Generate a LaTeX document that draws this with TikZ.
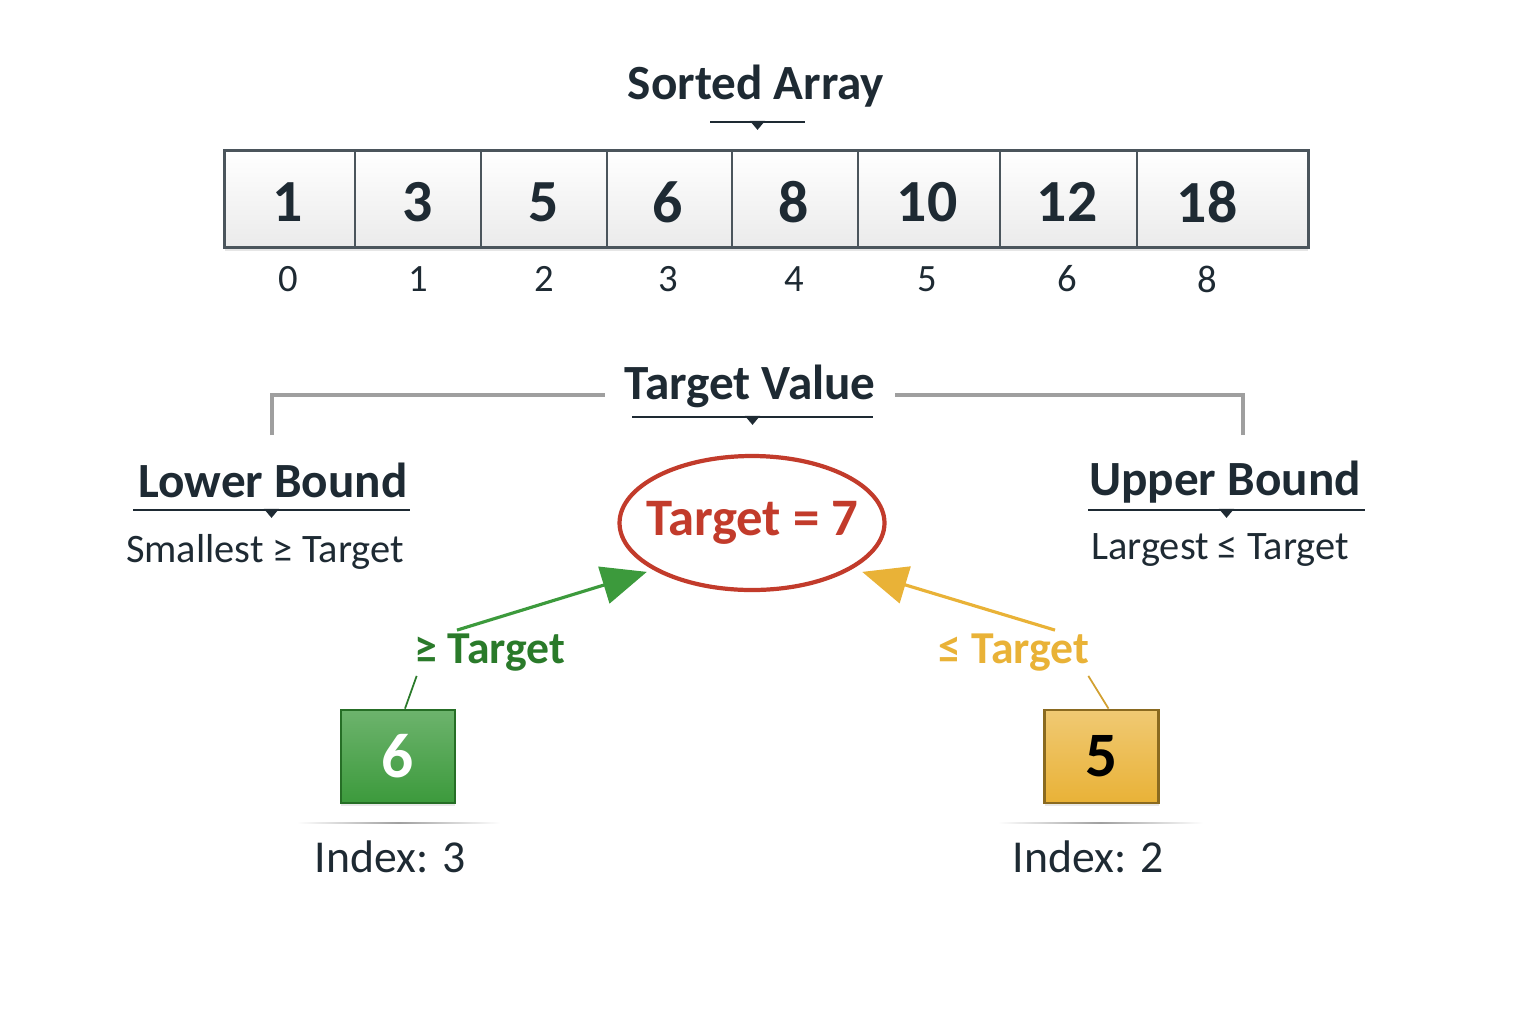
\documentclass[tikz,border=0pt]{standalone}
\usepackage{fontspec}
\setmainfont{Carlito}
\usetikzlibrary{shapes.geometric,shadows,arrows.meta}
\definecolor{ink}{HTML}{1E2A33}
\definecolor{tred}{HTML}{C23B2B}
\definecolor{lgreen}{HTML}{3C9A3C}
\definecolor{dgreen}{HTML}{2A7A2A}
\definecolor{lyellow}{HTML}{E9B237}
\definecolor{dyellow}{HTML}{8A6A20}
\tikzset{
  head/.style={font=\fontsize{14}{16}\selectfont\bfseries,text=ink,inner sep=1pt},
  sub/.style={font=\fontsize{11.5}{14}\selectfont,text=ink,inner sep=1pt},
  cell/.style={rectangle,draw=ink!80,line width=0.5pt,minimum height=0.96cm,top color=white,bottom color=gray!16,inner sep=0pt},
  val/.style={font=\fontsize{17}{19}\selectfont\bfseries,text=ink,inner sep=0pt},
  idx/.style={font=\fontsize{11}{13}\selectfont,text=ink,inner sep=0pt},
  uline/.style={draw=ink,line width=0.5pt},
  marker/.style={isosceles triangle,isosceles triangle apex angle=80,shape border rotate=-90,fill=ink,inner sep=0pt,minimum width=0.15cm,minimum height=0.09cm,anchor=north,yshift=0.02cm},
  bracket/.style={draw=gray!75,line width=1pt},
  pick/.style={rectangle,minimum width=1.14cm,minimum height=0.93cm,line width=0.8pt,font=\fontsize{18}{20}\selectfont\bfseries,drop shadow={opacity=0.18,shadow xshift=0pt,shadow yshift=-0.8pt}},
  fade/.style={left color=white,right color=white,middle color=gray!75},
}
\begin{document}
\begin{tikzpicture}
  \useasboundingbox (0,0) rectangle (15.36,-10.24);
  % array
  \node[head] (title) at (7.56,-0.86) {Sorted Array};
  \draw[uline] (7.10,-1.22) -- node[marker]{} (8.05,-1.22);
  \path[fill=white,drop shadow={opacity=0.2,shadow xshift=0pt,shadow yshift=-1.2pt}] (2.25,-1.51) rectangle (13.08,-2.47);
  \foreach \l/\r/\c/\v/\i [count=\k] in {2.25/3.55/2.88/1/0, 3.55/4.81/4.18/3/1, 4.81/6.07/5.44/5/2, 6.07/7.32/6.68/6/3, 7.32/8.58/7.94/8/4, 8.58/10.00/9.27/10/5, 10.00/11.37/10.67/12/6, 11.37/13.08/12.07/18/8}{
    \node[cell,minimum width={(\r-\l)*1cm}] (c\k) at ({(\l+\r)/2},-1.99) {};
    \node[val] (v\k) at (\c,-2.02) {\v};
    \node[idx] (i\k) at (\c,-2.79) {\i};
  }
  \draw[line width=0.9pt,ink!80] (c1.north west) rectangle (c8.south east);
  % target
  \node[head] (tv) at (7.50,-3.86) {Target Value};
  \draw[uline] (6.32,-4.17) -- node[marker]{} (8.73,-4.17);
  \node[ellipse,draw=tred,line width=1.2pt,inner xsep=-3.5pt,inner ysep=7pt,minimum width=2.62cm,minimum height=1.34cm,text=tred,font=\fontsize{15}{17}\selectfont\bfseries] (tgt) at (7.52,-5.23) {Target = 7};
  % bounds
  \node[head] (lb) at (2.73,-4.80) {Lower Bound};
  \draw[uline] (1.33,-5.10) -- node[marker]{} (4.10,-5.10);
  \node[sub] (lbt) at (2.65,-5.52) {Smallest ≥ Target};
  \node[head] (ub) at (12.25,-4.82) {Upper Bound};
  \draw[uline] (10.88,-5.10) -- node[marker]{} (13.65,-5.10);
  \node[sub] (ubt) at (12.20,-5.50) {Largest ≤ Target};
  \coordinate (lk) at (2.72,-4.35);
  \coordinate (rk) at (12.43,-4.35);
  \draw[bracket] (lk) |- ([xshift=-0.15cm,yshift=-0.09cm]tv.west);
  \draw[bracket] (rk) |- ([xshift=0.15cm,yshift=-0.09cm]tv.east);
  % results
  \node[text=dgreen,font=\fontsize{13}{15}\selectfont\bfseries,inner sep=1pt] (gl) at (4.90,-6.53) {≥ Target};
  \node[text=lyellow,font=\fontsize{13}{15}\selectfont\bfseries,inner sep=1pt] (yl) at (10.14,-6.53) {≤ Target};
  \draw[lgreen,line width=0.9pt,-{Triangle[length=4.5mm,width=3.8mm]}] ([xshift=-3.3mm]gl.north) -- ([xshift=-1mm]tgt.south west);
  \draw[lyellow,line width=0.9pt,-{Triangle[length=4.5mm,width=3.8mm]}] ([xshift=4.1mm]yl.north) -- ([xshift=1.5mm]tgt.south east);
  \node[pick,draw=dgreen!90!black,top color=lgreen!75,bottom color=lgreen,text=white] (gb) at (3.98,-7.565) {6};
  \node[pick,draw=dyellow,top color=lyellow!70,bottom color=lyellow,text=black] (yb) at (11.015,-7.565) {5};
  \draw[dgreen,line width=0.5pt] ([xshift=0.7mm]gb.north) -- ([xshift=0.6mm]gl.south west);
  \draw[lyellow!90!black,line width=0.5pt] ([xshift=0.7mm]yb.north) -- ([xshift=-0.5mm]yl.south east);
  \shade[fade] (2.97,-8.222) rectangle (5.00,-8.238);
  \shade[fade] (9.98,-8.222) rectangle (12.03,-8.238);
  \node[sub,font=\fontsize{13}{15}\selectfont] (gi) at (3.90,-8.57) {Index: 3};
  \node[sub,font=\fontsize{13}{15}\selectfont] (yi) at (10.88,-8.57) {Index: 2};
\end{tikzpicture}
\end{document}
